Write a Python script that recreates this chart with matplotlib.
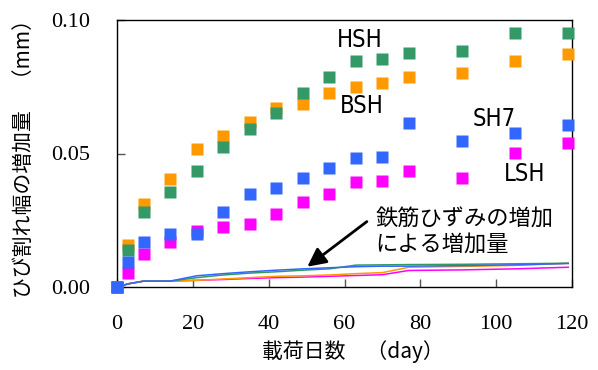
import matplotlib
matplotlib.use("Agg")
import matplotlib.pyplot as plt

# ---- data ----
days = [0, 3, 7, 14, 21, 28, 35, 42, 49, 56, 63, 70, 77, 91, 105, 119]
hsh = [0, 0.0139, 0.0280, 0.0355, 0.0436, 0.0526, 0.0592, 0.0653, 0.0725, 0.0785,
       0.0846, 0.0854, 0.0878, 0.0884, 0.0950, 0.0950]
bsh = [0, 0.0157, 0.0310, 0.0404, 0.0517, 0.0566, 0.0619, 0.0672, 0.0685, 0.0728,
       0.0748, 0.0765, 0.0788, 0.0803, 0.0846, 0.0871]
sh7 = [0, 0.0092, 0.0167, 0.0197, 0.0197, 0.0280, 0.0347, 0.0370, 0.0407, 0.0444,
       0.0482, 0.0488, 0.0615, 0.0548, 0.0578, 0.0607]
lsh = [0, 0.0054, 0.0122, 0.0167, 0.0211, 0.0226, 0.0235, 0.0272, 0.0317, 0.0347,
       0.0392, 0.0398, 0.0436, 0.0407, 0.0503, 0.0540]

# increase due to steel strain (lines)
hsh_st = [0, 0.0012, 0.0022, 0.0022, 0.0035, 0.0045, 0.0052, 0.0057, 0.0063, 0.0068,
          0.0082, 0.0083, 0.0084, 0.0085, 0.0087, 0.0089]
sh7_st = [0, 0.0012, 0.0022, 0.0022, 0.0042, 0.0050, 0.0057, 0.0063, 0.0068, 0.0072,
          0.0076, 0.0078, 0.0078, 0.0080, 0.0083, 0.0088]
bsh_st = [0, 0.0012, 0.0022, 0.0022, 0.0025, 0.0030, 0.0035, 0.0040, 0.0042, 0.0045,
          0.0050, 0.0054, 0.0074, 0.0077, 0.0081, 0.0089]
lsh_st = [0, 0.0012, 0.0022, 0.0022, 0.0025, 0.0028, 0.0032, 0.0035, 0.0037, 0.0040,
          0.0043, 0.0046, 0.0062, 0.0064, 0.0068, 0.0074]

series_names = ["BSH", "HSH", "LSH", "SH7"]
colors = {"HSH": "#339966", "BSH": "#FF9900", "SH7": "#3366FF", "LSH": "#FF00FF"}

xticks = [0, 20, 40, 60, 80, 100, 120]
yticks = [0.00, 0.05, 0.10]
ytick_labels = ["0.00", "0.05", "0.10"]

CJK = ["Noto Sans CJK JP", "DejaVu Sans"]

fig = plt.figure(figsize=(5.98, 3.70), dpi=100)
ax = fig.add_axes([117/598, 1-287/370, 455/598, 267/370])

# lines
ax.plot(days, lsh_st, color=colors["LSH"], lw=1.1, zorder=2)
ax.plot(days, bsh_st, color=colors["BSH"], lw=1.1, zorder=2)
ax.plot(days, hsh_st, color=colors["HSH"], lw=1.1, zorder=2)
ax.plot(days, sh7_st, color=colors["SH7"], lw=1.1, zorder=2)

# markers
vals = {"HSH": hsh, "BSH": bsh, "SH7": sh7, "LSH": lsh}
for name in series_names:
    ax.plot(days, vals[name], ls="none", marker="s", ms=8.5, color=colors[name],
            mec="none", clip_on=False, zorder=3)

ax.set_xlim(0, 120)
ax.set_ylim(0, 0.10)
ax.set_xticks(xticks)
ax.set_xticklabels([str(t) for t in xticks], family="Liberation Serif", fontsize=16)
ax.set_yticks(yticks)
ax.set_yticklabels(ytick_labels, family="Liberation Serif", fontsize=16)
ax.tick_params(axis="both", direction="in", length=6, width=1, color="#555555")
ax.tick_params(axis="x", pad=20)
ax.tick_params(axis="y", pad=19)
for s in ax.spines.values():
    s.set_linewidth(1.0)
    s.set_color("black")

ax.set_xlabel("載荷日数　（day）", family=CJK, fontsize=15, va="center")
ax.xaxis.set_label_coords(0.519, -0.243)
ax.set_ylabel("ひび割れ幅の増加量　（mm）", family=CJK, fontsize=15, va="center")
ax.yaxis.set_label_coords(-0.204, 0.5)

# series labels
lab_kw = dict(family=["DejaVu Sans"], fontstretch="condensed", fontsize=17,
              ha="center", va="center")
ax.text(64.0, 0.0925, "HSH", **lab_kw)
ax.text(64.5, 0.0678, "BSH", **lab_kw)
ax.text(99.6, 0.0631, "SH7", **lab_kw)
ax.text(107.6, 0.0425, "LSH", **lab_kw)

# annotation
ax.text(68.2, 0.0207, "鉄筋ひずみの増加\nによる増加量", family=CJK, fontsize=16,
        ha="left", va="center", linespacing=1.15)
ax.annotate("", xy=(50.2, 0.0076), xytext=(65.9, 0.0245),
            arrowprops=dict(arrowstyle="-|>", color="black", lw=2,
                            mutation_scale=28, shrinkA=0, shrinkB=0))

fig.savefig("out.png", dpi=100)
